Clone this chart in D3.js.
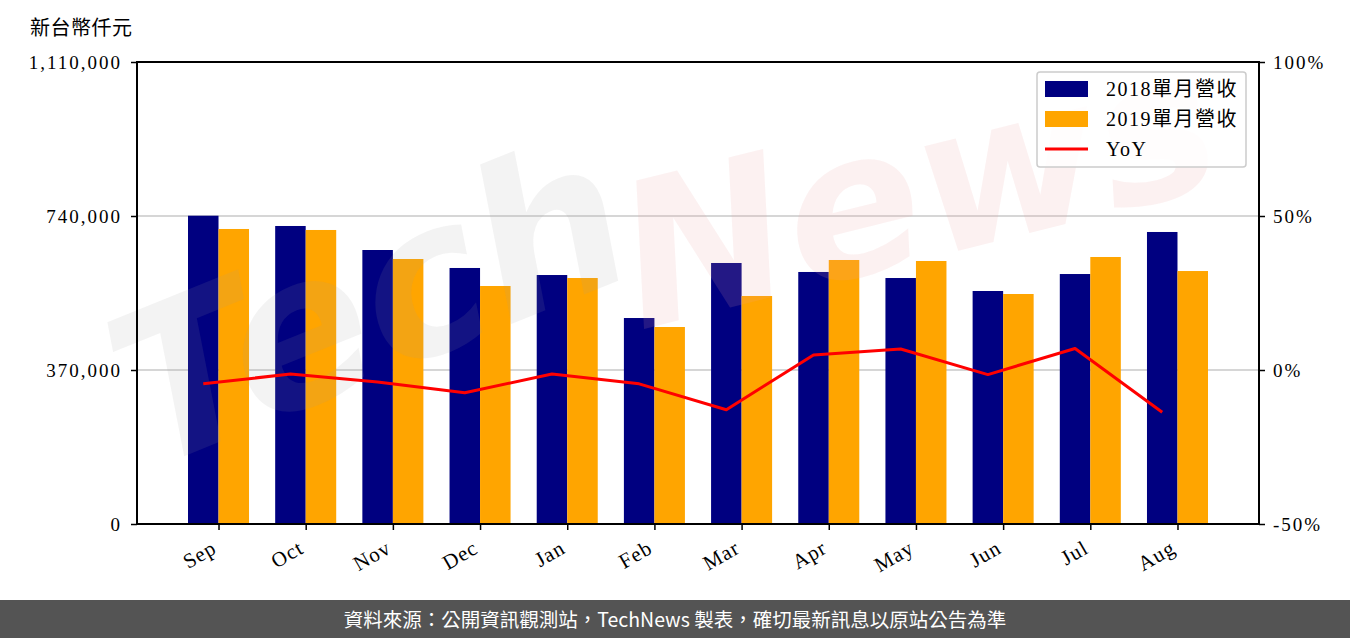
<!DOCTYPE html>
<html><head><meta charset="utf-8">
<script src="https://cdn.jsdelivr.net/npm/d3@7"></script>
<style>
html,body{margin:0;padding:0;background:#fff;}
svg{display:block;}
</style></head>
<body>
<svg id="c" width="1350" height="638"></svg>
<script>
const categories = ["Sep","Oct","Nov","Dec","Jan","Feb","Mar","Apr","May","Jun","Jul","Aug"];
const rev2018 = [740700,716000,658300,615100,598200,494900,627100,605500,591000,559800,600600,701600];
const rev2019 = [708800,706400,636700,571800,591000,473300,547800,634300,631900,552600,641500,607800];
const yoy = [-4.5,-1.3,-3.9,-7.4,-1.3,-4.5,-12.9,4.9,6.8,-1.5,7.0,-13.7];
const leftTicks = [0,370000,740000,1110000];
const rightTicks = [-50,0,50,100];
const seriesNames = ["2018單月營收","2019單月營收","YoY"];
const unitLabel = "新台幣仟元";
const footerText = "資料來源：公開資訊觀測站，TechNews 製表，確切最新訊息以原站公告為準";

const svg = d3.select("#c");
const L=137,R=1259,T=62,B=524;
const barW = 0.35;
const x = d3.scaleLinear().domain([-0.935, 11.935]).range([L,R]);
const y = d3.scaleLinear().domain([0,1110000]).range([B,T]);
const y2 = d3.scaleLinear().domain([-50,100]).range([B,T]);
const serif = "'Liberation Serif','DejaVu Serif',serif";

// gridlines
svg.append("g").selectAll("line").data(leftTicks.filter(d=>d>0&&d<1110000)).join("line")
  .attr("x1",L).attr("x2",R).attr("y1",d=>y(d)).attr("y2",d=>y(d))
  .attr("stroke","#d6d6d6").attr("stroke-width",2);

// bars
const bw = x(barW)-x(0);
svg.append("g").selectAll("rect").data(rev2018).join("rect")
  .attr("x",(d,i)=>x(i-barW)).attr("width",bw)
  .attr("y",d=>y(d)).attr("height",d=>B-y(d)).attr("fill","#000080");
svg.append("g").selectAll("rect").data(rev2019).join("rect")
  .attr("x",(d,i)=>x(i)).attr("width",bw)
  .attr("y",d=>y(d)).attr("height",d=>B-y(d)).attr("fill","#FFA500");

// watermark
const wm = svg.append("g").attr("pointer-events","none");
wm.append("text").text("Tech")
  .attr("transform","translate(150,470) rotate(-22)")
  .attr("font-family","'DejaVu Sans',sans-serif").attr("font-style","italic").attr("font-weight","bold")
  .attr("font-size",210).attr("fill","#999").attr("fill-opacity",0.12);
wm.append("text").text("News")
  .attr("transform","translate(640,330) rotate(-14)")
  .attr("font-family","'DejaVu Sans',sans-serif").attr("font-style","italic").attr("font-weight","bold")
  .attr("font-size",200).attr("fill","#e8a0a0").attr("fill-opacity",0.15);

// YoY line
const line = d3.line().x((d,i)=>x(i-barW/2)).y(d=>y2(d));
svg.append("path").datum(yoy).attr("d",line).attr("fill","none")
  .attr("stroke","#ff0000").attr("stroke-width",3).attr("stroke-linejoin","round");

// axes
const fmt = d3.format(",");
const axL = svg.append("g").attr("transform",`translate(${L},0)`)
  .call(d3.axisLeft(y).tickValues(leftTicks).tickFormat(fmt).tickSize(6).tickPadding(9));
const axR = svg.append("g").attr("transform",`translate(${R},0)`)
  .call(d3.axisRight(y2).tickValues(rightTicks).tickFormat(d=>d+"%").tickSize(6).tickPadding(8));
const axB = svg.append("g").attr("transform",`translate(0,${B})`)
  .call(d3.axisBottom(x).tickValues(d3.range(categories.length)).tickFormat(i=>categories[i]).tickSize(6));
[axL,axR,axB].forEach(a=>{
  a.select(".domain").remove();
  a.selectAll(".tick line").attr("stroke","#000").attr("stroke-width",1.5);
  a.selectAll("text").attr("font-family",serif).attr("font-size",19).attr("fill","#000");
});
axL.selectAll("text").attr("letter-spacing","2px");
axR.selectAll("text").attr("letter-spacing","2px");
axB.selectAll("text").attr("font-size",21).attr("letter-spacing","1px")
  .attr("text-anchor","end").attr("dy",null).attr("y",0)
  .attr("transform","translate(-1,28) rotate(-30)");

// frame
svg.append("rect").attr("x",L).attr("y",T).attr("width",R-L).attr("height",B-T)
  .attr("fill","none").attr("stroke","#000").attr("stroke-width",2);

// unit label
svg.append("text").text(unitLabel).attr("x",30).attr("y",35)
  .attr("font-family","'Noto Sans CJK TC',sans-serif").attr("font-size",20).attr("letter-spacing","0.5px").attr("fill","#000");

// legend
const lg = svg.append("g");
lg.append("rect").attr("x",1037).attr("y",72).attr("width",209).attr("height",95).attr("rx",3)
  .attr("fill","#fff").attr("fill-opacity",0.85).attr("stroke","#ccc").attr("stroke-width",1.5);
const colors = ["#000080","#FFA500","#ff0000"];
seriesNames.forEach((n,i)=>{
  const cy = 89+i*30;
  if(i<2){
    lg.append("rect").attr("x",1045).attr("y",cy-8).attr("width",43).attr("height",16).attr("fill",colors[i]);
  } else {
    lg.append("line").attr("x1",1045).attr("x2",1088).attr("y1",cy).attr("y2",cy).attr("stroke",colors[i]).attr("stroke-width",3);
  }
  lg.append("text").text(n).attr("x",1106).attr("y",cy+7)
    .attr("font-family",serif+",'Noto Sans CJK TC'").attr("font-size",20).attr("letter-spacing","1.5px").attr("fill","#000");
});

// footer
svg.append("rect").attr("x",0).attr("y",600).attr("width",1350).attr("height",38).attr("fill","#545454");
svg.append("text").text(footerText).attr("x",675).attr("y",627).attr("text-anchor","middle")
  .attr("font-family","'Noto Sans CJK TC',sans-serif").attr("font-size",19.5).attr("fill","#fff");
</script>
</body></html>
